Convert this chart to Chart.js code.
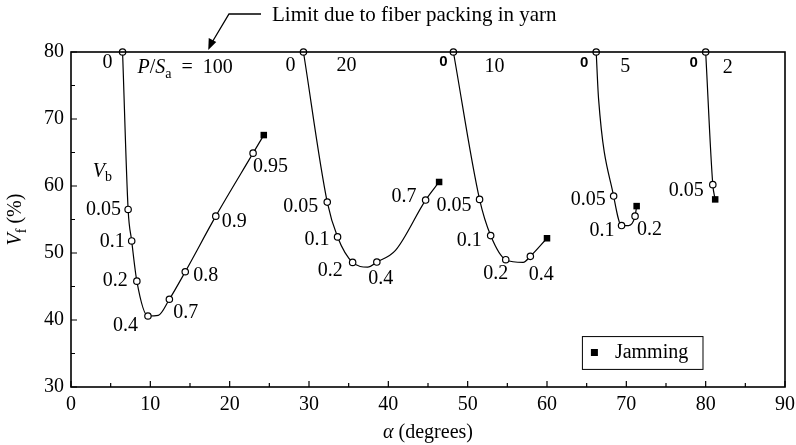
<!DOCTYPE html>
<html>
<head>
<meta charset="utf-8">
<script src="https://cdn.jsdelivr.net/npm/chart.js@4/dist/chart.umd.min.js"></script>
<style>
  html, body { margin: 0; padding: 0; background: #fff; }
  canvas { display: block; }
</style>
</head>
<body>
<canvas id="myChart" width="796" height="445"></canvas>
<script>
// P/Sa values, one curve each
const psaValues = ['100', '20', '10', '5', '2'];

// alpha (degrees), Vf (%), Vb label for each vertex ('' = plain vertex, no marker)
const alpha100 = [6.5, 7.2, 7.65, 8.3, 9.7, 11.0, 12.4, 14.4, 18.25, 22.95];
const vf100    = [80, 56.5, 51.8, 45.8, 40.6, 40.7, 43.1, 47.2, 55.5, 64.9];
const vb100    = ['0', '0.05', '0.1', '0.2', '0.4', '', '0.7', '0.8', '0.9', '0.95'];

const alpha20 = [29.3, 32.3, 33.6, 35.5, 37.4, 38.55, 40.9, 44.7];
const vf20    = [80, 57.6, 52.4, 48.6, 47.9, 48.65, 50.4, 57.9];
const vb20    = ['0', '0.05', '0.1', '0.2', '', '0.4', '', '0.7'];

const alpha10 = [48.2, 51.5, 52.9, 54.8, 57.0, 57.9];
const vf10    = [80, 58.0, 52.6, 49.0, 48.6, 49.5];
const vb10    = ['0', '0.05', '0.1', '0.2', '', '0.4'];

const alpha5 = [66.2, 66.5, 68.4, 69.4, 70.3, 71.1];
const vf5    = [80, 73, 58.5, 54.1, 54.1, 55.5];
const vb5    = ['0', '', '0.05', '0.1', '', '0.2'];

const alpha2 = [80.0, 80.9];
const vf2    = [80, 60.2];
const vb2    = ['0', '0.05'];

// jamming points (end of each curve)
const jamAlpha = [24.3, 46.4, 60.0, 71.3, 81.2];
const jamVf    = [67.6, 60.6, 52.2, 57.0, 58.0];

const xTicks = [0, 10, 20, 30, 40, 50, 60, 70, 80, 90];
const yTicks = [30, 40, 50, 60, 70, 80];

// label placement in px: [dx, dy, align] relative to the point
const place100 = [[-15,11,'center'],[-7,0,'right'],[-7,1,'right'],[-9,0,'right'],[-10,10,'right'],null,[4,14,'left'],[8,4,'left'],[6,6,'left'],[0,14,'left']];
const place20  = [[-13,14,'center'],[-9,5,'right'],[-8,3,'right'],[-10,8,'right'],null,[4,17,'center'],null,[-9,-3,'right']];
const place10  = [[-10,10,'center'],[-8,6,'right'],[-9,5,'right'],[-10,14,'center'],null,[11,18,'center']];
const place5   = [[-12,11,'center'],null,[-8,4,'right'],[-7,5,'right'],null,[2,14,'left']];
const place2   = [[-12,11,'center'],[-9,6,'right']];
const psaPlace = [[15,16],[33,14],[31,15],[24,15],[17,16]];
const zeroBold = [false, false, true, true, true];

const curves = [
  { a: alpha100, v: vf100, vb: vb100, place: place100 },
  { a: alpha20,  v: vf20,  vb: vb20,  place: place20 },
  { a: alpha10,  v: vf10,  vb: vb10,  place: place10 },
  { a: alpha5,   v: vf5,   vb: vb5,   place: place5 },
  { a: alpha2,   v: vf2,   vb: vb2,   place: place2 },
];

const SERIF = '"Liberation Serif", "Times New Roman", serif';

const datasets = curves.map((c, k) => {
  const pts = c.a.map((x, i) => ({ x: x, y: c.v[i] }));
  pts.push({ x: jamAlpha[k], y: jamVf[k] });
  const radii = c.vb.map(l => l === '' ? 0 : 3.2);
  radii.push(0);
  return {
    label: 'P/Sa = ' + psaValues[k],
    data: pts,
    showLine: true,
    borderColor: '#000',
    borderWidth: 1.2,
    cubicInterpolationMode: 'monotone',
    pointRadius: radii,
    pointHoverRadius: radii,
    pointBackgroundColor: '#fff',
    pointBorderColor: '#000',
    pointBorderWidth: 1.2,
    clip: false,
  };
});

datasets.push({
  label: 'Jamming',
  data: jamAlpha.map((x, i) => ({ x: x, y: jamVf[i] })),
  showLine: false,
  pointStyle: 'rect',
  pointRadius: 4.6,
  backgroundColor: '#000',
  borderColor: '#000',
  borderWidth: 0,
  clip: false,
});

// draw text made of parts: {t, i (italic), sub}
function richWidth(ctx, parts, size) {
  let w = 0;
  parts.forEach(p => {
    const s = p.sub ? size * 0.7 : size;
    ctx.font = (p.i ? 'italic ' : '') + s + 'px ' + SERIF;
    w += ctx.measureText(p.t).width;
  });
  return w;
}
function drawRich(ctx, parts, x, y, size) {
  ctx.textBaseline = 'middle';
  ctx.textAlign = 'left';
  parts.forEach(p => {
    const s = p.sub ? size * 0.7 : size;
    ctx.font = (p.i ? 'italic ' : '') + s + 'px ' + SERIF;
    ctx.fillText(p.t, x, p.sub ? y + size * 0.3 : y);
    x += ctx.measureText(p.t).width;
  });
}

const decorations = {
  id: 'decorations',
  afterDatasetsDraw(chart) {
    const ctx = chart.ctx;
    const xs = chart.scales.x, ys = chart.scales.y;
    const area = chart.chartArea;
    ctx.save();
    ctx.fillStyle = '#000';
    ctx.strokeStyle = '#000';

    // frame
    ctx.lineWidth = 1.6;
    ctx.strokeRect(area.left, area.top, area.right - area.left, area.bottom - area.top);

    // inward ticks
    ctx.lineWidth = 1.2;
    ctx.beginPath();
    for (let v = 0; v <= 90; v += 5) {
      const px = xs.getPixelForValue(v);
      const len = v % 10 === 0 ? 6 : 4;
      ctx.moveTo(px, area.bottom);
      ctx.lineTo(px, area.bottom - len);
    }
    for (let v = 30; v <= 80; v += 5) {
      const py = ys.getPixelForValue(v);
      const len = v % 10 === 0 ? 6 : 4;
      ctx.moveTo(area.left, py);
      ctx.lineTo(area.left + len, py);
    }
    ctx.stroke();

    // Vb labels
    curves.forEach((c, k) => {
      const meta = chart.getDatasetMeta(k);
      c.vb.forEach((lab, i) => {
        if (!lab || !c.place[i]) return;
        const pt = meta.data[i];
        const [dx, dy, al] = c.place[i];
        if (lab === '0' && zeroBold[k]) {
          ctx.font = 'bold 15px "Liberation Sans", Arial, sans-serif';
        } else {
          ctx.font = '20px ' + SERIF;
        }
        ctx.textAlign = al;
        ctx.textBaseline = 'middle';
        ctx.fillText(lab, pt.x + dx, pt.y + dy);
      });
      // P/Sa value labels
      const p0 = meta.data[0];
      const [pdx, pdy] = psaPlace[k];
      if (k === 0) {
        drawRich(ctx, [{t: 'P', i: true}, {t: '/'}, {t: 'S', i: true}, {t: 'a', sub: true}, {t: '\u2002=\u2002' + psaValues[k]}], p0.x + pdx, p0.y + pdy, 20);
      } else {
        ctx.font = '20px ' + SERIF;
        ctx.textAlign = 'left';
        ctx.textBaseline = 'middle';
        ctx.fillText(psaValues[k], p0.x + pdx, p0.y + pdy);
      }
    });

    // Vb heading
    drawRich(ctx, [{t: 'V', i: true}, {t: 'b', sub: true}], xs.getPixelForValue(2.75), ys.getPixelForValue(62.2), 20);

    // limit annotation with arrow
    const tipX = xs.getPixelForValue(17.3), tipY = area.top - 2;
    ctx.lineWidth = 1.3;
    ctx.beginPath();
    ctx.moveTo(261, 14);
    ctx.lineTo(229, 14);
    ctx.lineTo(tipX + 4, tipY - 8);
    ctx.stroke();
    ctx.beginPath();
    ctx.moveTo(tipX, tipY);
    ctx.lineTo(tipX + 0.5, tipY - 12);
    ctx.lineTo(tipX + 8, tipY - 8);
    ctx.closePath();
    ctx.fill();
    ctx.font = '21px ' + SERIF;
    ctx.textAlign = 'left';
    ctx.textBaseline = 'middle';
    ctx.fillText('Limit due to fiber packing in yarn', 272, 15);

    // legend box
    const lx0 = xs.getPixelForValue(64.4), lx1 = xs.getPixelForValue(79.6);
    const ly0 = ys.getPixelForValue(37.6), ly1 = ys.getPixelForValue(32.7);
    ctx.fillStyle = '#fff';
    ctx.fillRect(lx0, ly0, lx1 - lx0, ly1 - ly0);
    ctx.fillStyle = '#000';
    ctx.lineWidth = 1;
    ctx.strokeRect(lx0 + 0.5, ly0 + 0.5, lx1 - lx0, ly1 - ly0);
    const lcy = (ly0 + ly1) / 2;
    ctx.fillRect(lx0 + 9, lcy - 3.5, 7, 7);
    ctx.font = '20px ' + SERIF;
    ctx.fillText('Jamming', lx0 + 33, lcy);

    // axis titles
    const xt = [{t: 'α', i: true}, {t: ' (degrees)'}];
    const xw = richWidth(ctx, xt, 20);
    drawRich(ctx, xt, (area.left + area.right) / 2 - xw / 2, 433, 20);

    const yt = [{t: 'V', i: true}, {t: 'f', sub: true}, {t: ' (%)'}];
    const yw = richWidth(ctx, yt, 20);
    ctx.translate(16, (area.top + area.bottom) / 2);
    ctx.rotate(-Math.PI / 2);
    drawRich(ctx, yt, -yw / 2, 0, 20);

    ctx.restore();
  }
};

const chart = new Chart(document.getElementById('myChart'), {
  type: 'scatter',
  data: { datasets: datasets },
  options: {
    responsive: false,
    animation: false,
    devicePixelRatio: 1,
    layout: { padding: { top: 52, right: 11, left: 0, bottom: 0 } },
    plugins: { legend: { display: false }, tooltip: { enabled: false } },
    scales: {
      x: {
        type: 'linear',
        min: 0, max: 90,
        afterBuildTicks: s => { s.ticks = xTicks.map(v => ({ value: v })); },
        afterFit: s => { s.height = 58; s.paddingLeft = 0; s.paddingRight = 11; },
        grid: { display: false, drawTicks: false },
        border: { display: false },
        ticks: { color: '#000', padding: 6, font: { family: SERIF, size: 20 } },
      },
      y: {
        type: 'linear',
        min: 30, max: 80,
        afterBuildTicks: s => { s.ticks = yTicks.map(v => ({ value: v })); },
        afterFit: s => { s.width = 71; },
        grid: { display: false, drawTicks: false },
        border: { display: false },
        ticks: { color: '#000', padding: 7, font: { family: SERIF, size: 20 } },
      }
    }
  },
  plugins: [decorations]
});
</script>
</body>
</html>
